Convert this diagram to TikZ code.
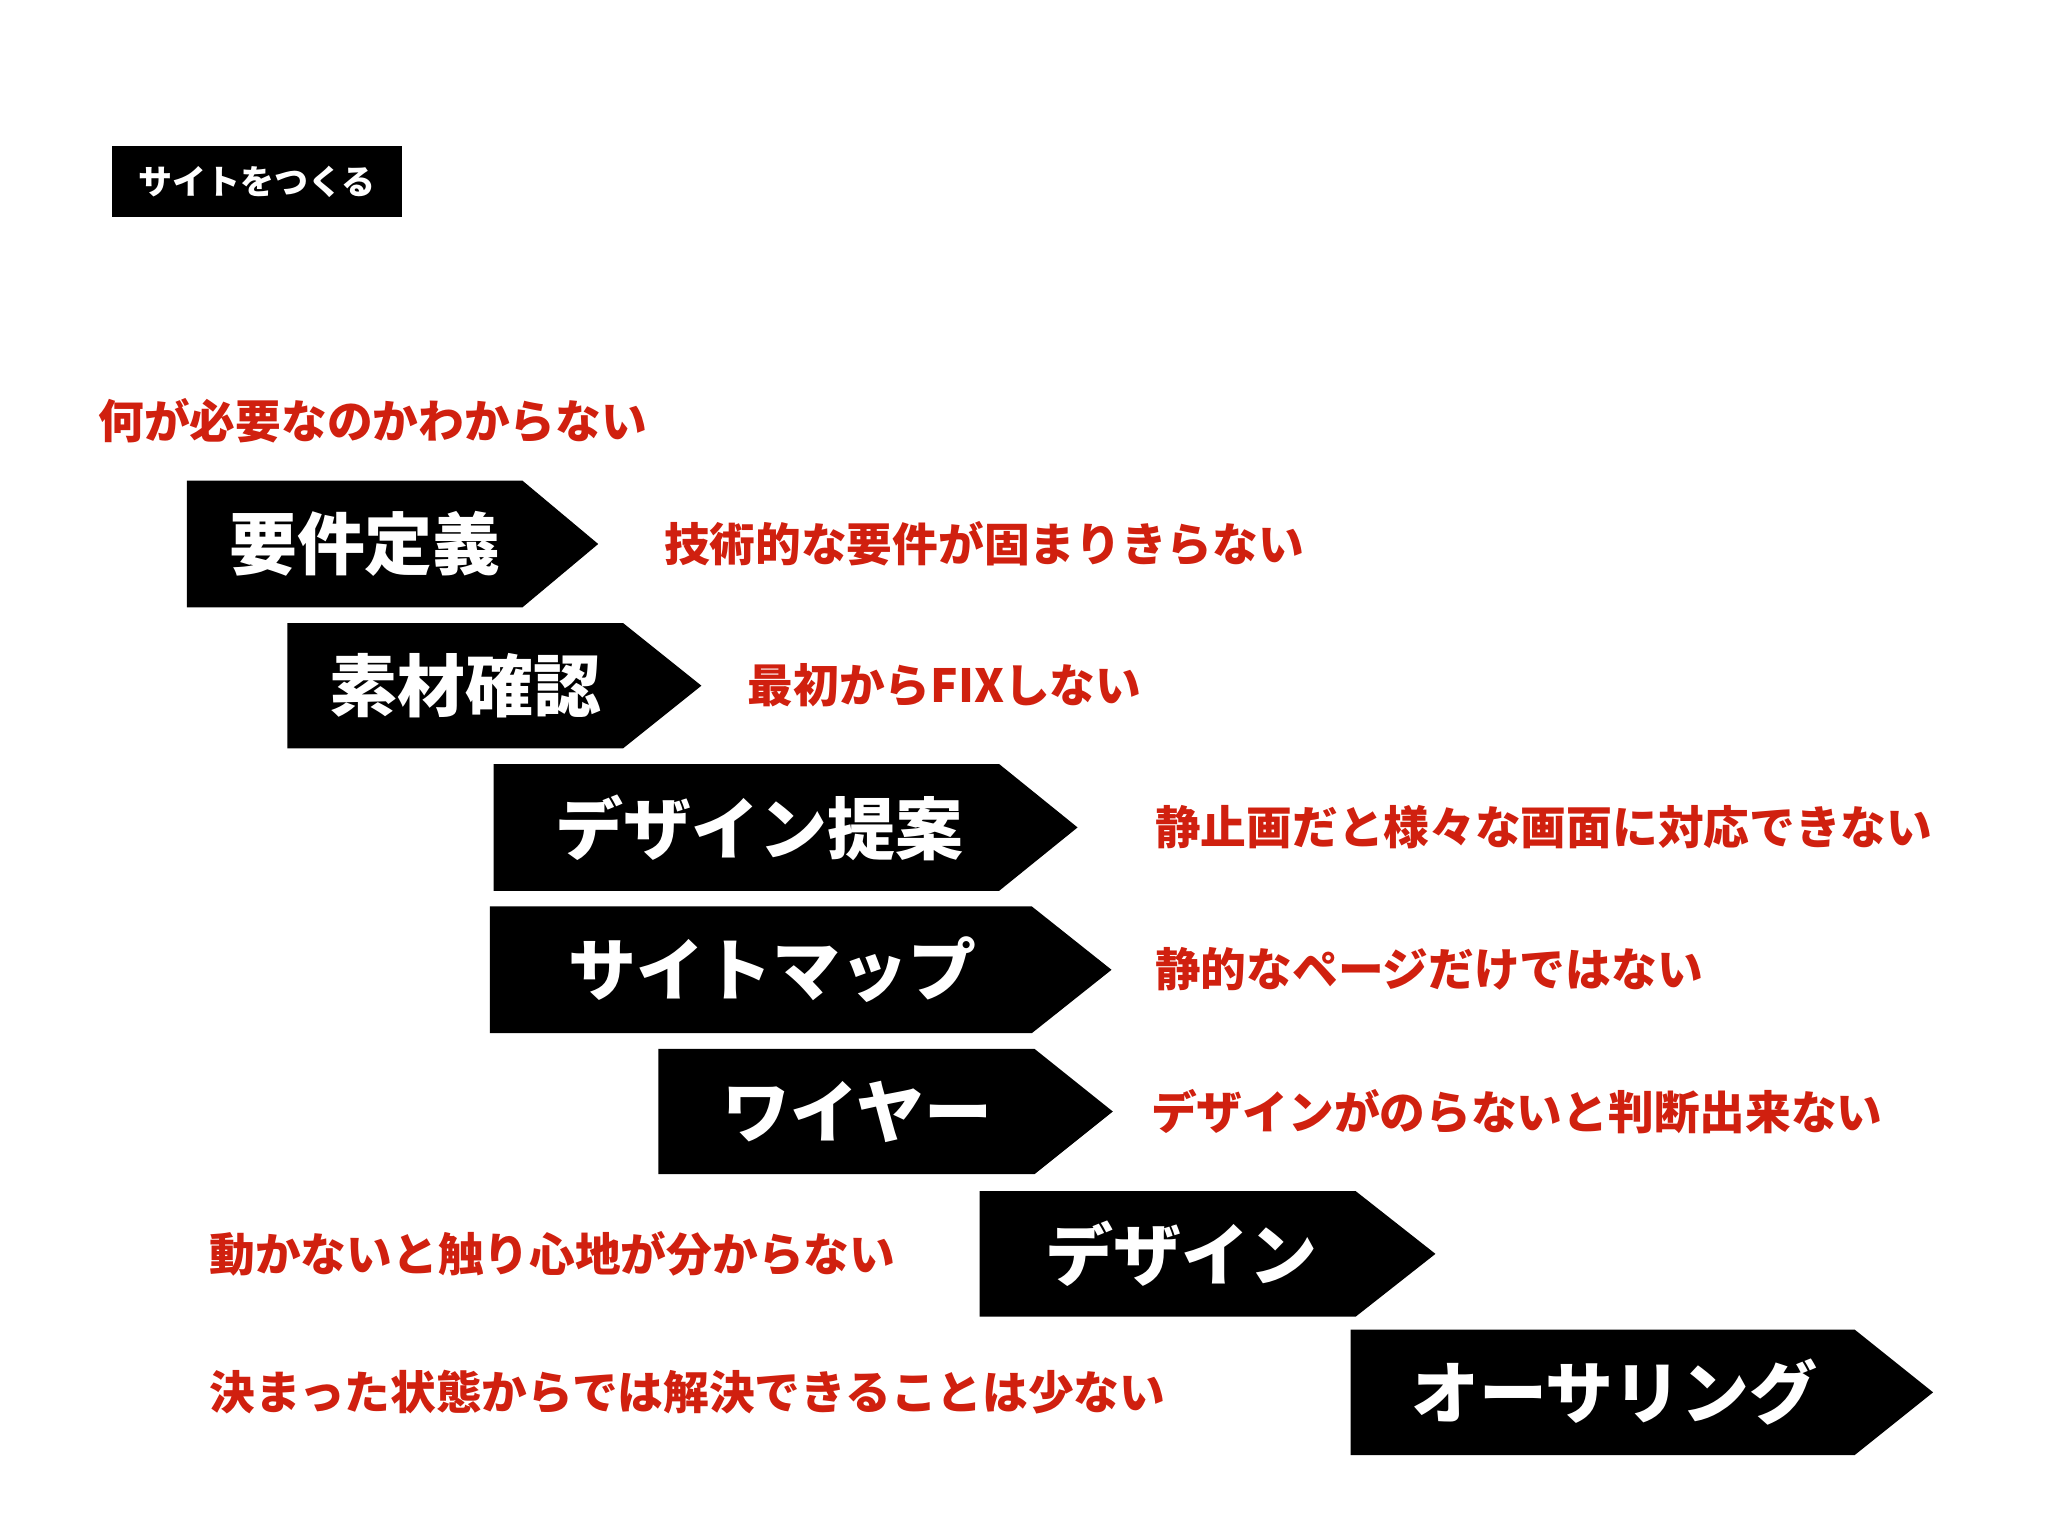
\documentclass[tikz,border=0pt]{standalone}
\usepackage{fontspec}
\newfontfamily\cjk{Noto Sans CJK JP}
\definecolor{redt}{HTML}{D0200F}
\begin{document}
\begin{tikzpicture}[x=0.5pt,y=-0.5pt,
  redlbl/.style={anchor=west,inner sep=0,text=redt,font=\cjk\bfseries\fontsize{17.5pt}{20pt}\selectfont},
  arrlbl/.style={anchor=west,inner sep=0,text=white,font=\cjk\bfseries\fontsize{26pt}{30pt}\selectfont}]
\useasboundingbox (0,0) rectangle (1568,1176);
\fill[black] (86,112) rectangle (308,166);
\node[anchor=center,text=white,font=\cjk\bfseries\fontsize{13pt}{15pt}\selectfont] (title) at (197,139) {サイトをつくる};
\node[redlbl] (q0) at (75,322) {何が必要なのかわからない};
\foreach \n/\xa/\xb/\xt/\ya/\yb/\tx/\lab in {
 a1/143/400/458/368/465/175/要件定義,
 a2/220/477/537/477/573/252/素材確認,
 a3/378/765/825/585/682/425/デザイン提案,
 a4/375/790/851/694/791/435/サイトマップ,
 a5/504/792/852/803/899/553/ワイヤー,
 a6/750/1038/1099/912/1008/800/デザイン,
 a7/1034/1420/1480/1018/1114/1080/オーサリング}{
 \fill[black] (\xa,\ya) -- (\xb,\ya) -- (\xt,{(\ya+\yb)/2}) -- (\xb,\yb) -- (\xa,\yb) -- cycle;
 \node[arrlbl] (\n) at (\tx,{(\ya+\yb)/2}) {\lab};
}
\node[redlbl] (q1) at (508,416) {技術的な要件が固まりきらない};
\node[redlbl] (q2) at (572,525) {最初からFIXしない};
\node[redlbl] (q3) at (884,633) {静止画だと様々な画面に対応できない};
\node[redlbl] (q4) at (884,742) {静的なページだけではない};
\node[redlbl] (q5) at (881,851) {デザインがのらないと判断出来ない};
\node[redlbl] (q6) at (160,960) {動かないと触り心地が分からない};
\node[redlbl] (q7) at (160,1066) {決まった状態からでは解決できることは少ない};
\end{tikzpicture}
\end{document}
